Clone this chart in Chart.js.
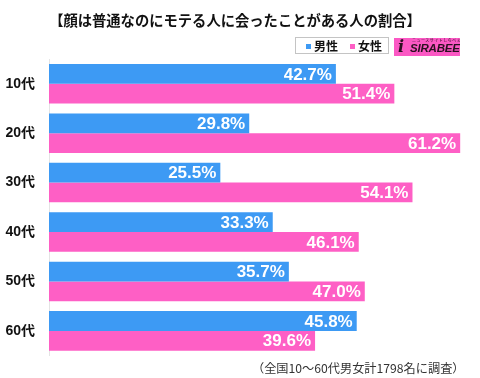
<!DOCTYPE html>
<html>
<head>
<meta charset="utf-8">
<script src="https://cdn.jsdelivr.net/npm/chart.js@4"></script>
<style>
  html, body { margin: 0; padding: 0; background: #fff; overflow: hidden; }
  #wrap { position: relative; width: 480px; height: 378px; }
  #c { position: absolute; left: 0; top: 0; }
  .t { position: absolute; white-space: nowrap; font-family: 'Noto Sans CJK JP', 'Liberation Sans', sans-serif; }
  #title { left: 0; top: 10px; width: 470px; text-align: center; font-size: 14.3px; font-weight: bold; color: #111; line-height: 20px; }
  #legend { left: 295px; top: 37px; width: 94px; height: 17px; border: 1px solid #c4c4c4; box-sizing: border-box; background: #fff; }
  .sq { position: absolute; width: 5px; height: 5px; top: 6px; }
  .lt { position: absolute; top: 0px; font-size: 12px; font-weight: bold; color: #111; line-height: 15px; }
  #logo { left: 394px; top: 38px; width: 66px; height: 18px; background: #fb58c4; overflow: hidden; }
  #logo .i { position: absolute; left: 4px; top: -1px; font-family: 'DejaVu Serif', serif; font-style: italic; font-weight: bold; font-size: 16px; color: #2a1020; line-height: 20px; }
  #logo .s { position: absolute; left: 16px; top: 4px; font-family: 'Liberation Sans', sans-serif; font-style: italic; font-weight: bold; font-size: 11.5px; color: #2a1020; line-height: 13px; letter-spacing: -0.2px; }
  #logo .k { position: absolute; left: 18px; top: 0px; font-size: 4px; color: #2a1020; line-height: 5px; letter-spacing: 0.5px; }
  #note { left: 252px; top: 360px; font-size: 12.2px; color: #333; line-height: 16px; }
</style>
</head>
<body>
<div id="wrap">
  <canvas id="c" width="480" height="378"></canvas>
  <div class="t" id="title">【顔は普通なのにモテる人に会ったことがある人の割合】</div>
  <div class="t" id="legend">
    <div class="sq" style="left:10px;background:#3d9af4"></div>
    <div class="lt" id="lm" style="left:18px">男性</div>
    <div class="sq" style="left:54px;background:#fe5fc5"></div>
    <div class="lt" id="lf" style="left:62px">女性</div>
  </div>
  <div class="t" id="logo"><span class="k">ニュースサイトしらべぇ</span><span class="i">i</span><span class="s">SIRABEE</span></div>
  <div class="t" id="note">（全国10～60代男女計1798名に調査）</div>
</div>
<script>
const categories = ['10代', '20代', '30代', '40代', '50代', '60代'];
const seriesNames = ['男性', '女性'];
const maleValues = [42.7, 29.8, 25.5, 33.3, 35.7, 45.8];
const femaleValues = [51.4, 61.2, 54.1, 46.1, 47.0, 39.6];

const BLUE = '#3d9af4';
const PINK = '#fe5fc5';

const valueLabels = {
  id: 'valueLabels',
  afterDatasetsDraw(chart) {
    const ctx = chart.ctx;
    ctx.save();
    ctx.font = "bold 17px 'Liberation Sans', Arial, sans-serif";
    ctx.fillStyle = '#ffffff';
    ctx.textAlign = 'right';
    ctx.textBaseline = 'middle';
    chart.data.datasets.forEach((ds, di) => {
      const meta = chart.getDatasetMeta(di);
      meta.data.forEach((el, i) => {
        const v = ds.data[i];
        ctx.fillText(v.toFixed(1) + '%', el.x - 4, el.y + 1);
      });
    });
    ctx.restore();
  }
};

new Chart(document.getElementById('c'), {
  type: 'bar',
  data: {
    labels: categories,
    datasets: [
      { label: seriesNames[0], data: maleValues, backgroundColor: BLUE, borderWidth: 0 },
      { label: seriesNames[1], data: femaleValues, backgroundColor: PINK, borderWidth: 0 }
    ]
  },
  options: {
    indexAxis: 'y',
    responsive: false,
    animation: false,
    devicePixelRatio: 1,
    layout: { padding: { top: 59, bottom: 20, left: 0, right: 1 } },
    datasets: { bar: { categoryPercentage: 0.8, barPercentage: 1.0 } },
    plugins: { legend: { display: false }, title: { display: false }, tooltip: { enabled: false } },
    scales: {
      x: { display: false, min: 0, max: 64 },
      y: {
        afterFit(scale) { scale.width = 49; },
        grid: { display: false, drawTicks: false },
        border: { display: true, color: '#e4e4e4', width: 1 },
        ticks: {
          padding: 14,
          color: '#111',
          font: { family: "'Liberation Sans', 'Noto Sans CJK JP', sans-serif", size: 14, weight: 'bold' }
        }
      }
    }
  },
  plugins: [valueLabels]
});
</script>
</body>
</html>
